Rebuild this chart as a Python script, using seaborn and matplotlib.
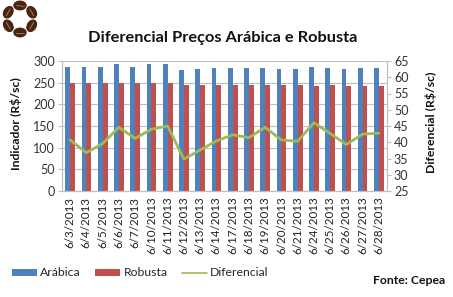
import numpy as np
import pandas as pd
import matplotlib
matplotlib.use("Agg")
import matplotlib.pyplot as plt
from matplotlib.patches import Ellipse, Patch
from matplotlib.lines import Line2D
import seaborn as sns

dates = ["6/3/2013", "6/4/2013", "6/5/2013", "6/6/2013", "6/7/2013", "6/10/2013",
         "6/11/2013", "6/12/2013", "6/13/2013", "6/14/2013", "6/17/2013", "6/18/2013",
         "6/19/2013", "6/20/2013", "6/21/2013", "6/24/2013", "6/25/2013", "6/26/2013",
         "6/27/2013", "6/28/2013"]
arabica = [287, 286, 287, 293, 287, 292, 292, 279, 281, 283, 284, 283,
           285, 282, 282, 287, 285, 281, 283, 283]
robusta = [250, 250, 250, 250, 249, 250, 249, 245, 245, 245, 245, 245,
           244, 244, 244, 243, 244, 243, 243, 243]
diferencial = [40.7, 36.8, 39.6, 44.6, 41.2, 44.0, 45.0, 34.8, 37.6, 40.4,
               42.3, 41.4, 44.6, 40.7, 40.3, 46.0, 42.7, 39.3, 42.5, 42.8]

BLUE = "#4F81BD"
RED = "#C0504D"
GREEN = "#9BBB59"
GRID = "#BFBFBF"

sns.set_theme(style="white")
plt.rcParams["font.family"] = ["Lato", "DejaVu Sans"]

df = pd.DataFrame({"data": dates * 2,
                   "valor": arabica + robusta,
                   "serie": ["Arábica"] * len(dates) + ["Robusta"] * len(dates)})
dfl = pd.DataFrame({"pos": np.arange(len(dates)), "dif": diferencial})

fig = plt.figure(figsize=(4.53, 2.97), dpi=100)
ax = fig.add_axes([62 / 453, 1 - 191 / 297, 325 / 453, 130 / 297])

sns.barplot(data=df, x="data", y="valor", hue="serie", palette=[BLUE, RED],
            width=0.6, ax=ax, legend=False, saturation=1, edgecolor="none")
ax.set_ylim(0, 300)
ax.set_yticks(np.arange(0, 301, 50))
ax.set_xlim(-0.5, len(dates) - 0.5)
ax.yaxis.grid(True, color=GRID, linewidth=0.8)
ax.set_axisbelow(True)
ax.set_xlabel("")
ax.set_ylabel("")
ax.tick_params(axis="y", labelsize=9, colors="#333333", length=3, width=0.8,
               direction="out", left=True, color=GRID, pad=2)
ax.tick_params(axis="x", labelsize=8.4, labelrotation=90, colors="#202020",
               length=0, pad=4)
for lab in ax.get_yticklabels():
    lab.set_color("#333333")

ax2 = ax.twinx()
sns.lineplot(data=dfl, x="pos", y="dif", ax=ax2, color=GREEN, linewidth=2.0)
ax2.set_ylim(25, 65)
ax2.set_yticks(np.arange(25, 66, 5))
ax2.set_ylabel("")
ax2.set_xlabel("")
ax2.set_xlim(-0.5, len(dates) - 0.5)
ax2.tick_params(axis="y", labelsize=9, colors="#333333", length=3, width=0.8,
                direction="out", right=True, color=GRID, pad=2)

for a in (ax, ax2):
    a.spines["top"].set_visible(False)
    for side in ("left", "right", "bottom"):
        a.spines[side].set_color(GRID)
        a.spines[side].set_linewidth(0.8)

fig.text(223 / 453, 1 - 38 / 297, "Diferencial Preços Arábica e Robusta",
         ha="center", va="center", fontsize=11.8, fontweight="bold", color="#111111")
fig.text(16 / 453, 1 - 124 / 297, "Indicador (R$/sc)", rotation=90, ha="center",
         va="center", fontsize=8.8, fontweight="bold", color="#111111")
fig.text(431 / 453, 1 - 122 / 297, "Diferencial (R$/sc)", rotation=90, ha="center",
         va="center", fontsize=8.8, fontweight="bold", color="#111111")
fig.text(445 / 453, 1 - 281 / 297, "Fonte: Cepea", ha="right", va="center",
         fontsize=8.8, fontweight="bold", color="#111111")

handles = [Patch(facecolor=BLUE, edgecolor="none"),
           Patch(facecolor=RED, edgecolor="none"),
           Line2D([0], [0], color=GREEN, linewidth=1.2)]
fig.legend(handles, ["Arábica", "Robusta", "Diferencial"], loc="center left",
           bbox_to_anchor=(12 / 453, 1 - 273 / 297), ncol=3, frameon=False,
           fontsize=8.8, handlelength=2.05, handleheight=0.5, handletextpad=0.25,
           columnspacing=1.2, borderaxespad=0, borderpad=0)

# logo: ring of coffee beans
lax = fig.add_axes([0, 1 - 40 / 297, 40 / 453, 40 / 297])
lax.set_xlim(0, 40)
lax.set_ylim(40, 0)
lax.axis("off")
cx, cy, r = 20, 19, 13.5
for ang in [30, 90, 150, 210, 270, 330]:
    t = np.deg2rad(ang)
    x, y = cx + r * np.cos(t), cy - r * np.sin(t)
    lax.add_patch(Ellipse((x, y), 12, 8.5, angle=-(ang + 90), color="#4A2412"))
    dx, dy = 4 * np.cos(np.deg2rad(ang + 90)), -4 * np.sin(np.deg2rad(ang + 90))
    lax.plot([x - dx, x + dx], [y - dy, y + dy], color="#B08060", linewidth=0.6)

fig.savefig("out.png", dpi=100)
